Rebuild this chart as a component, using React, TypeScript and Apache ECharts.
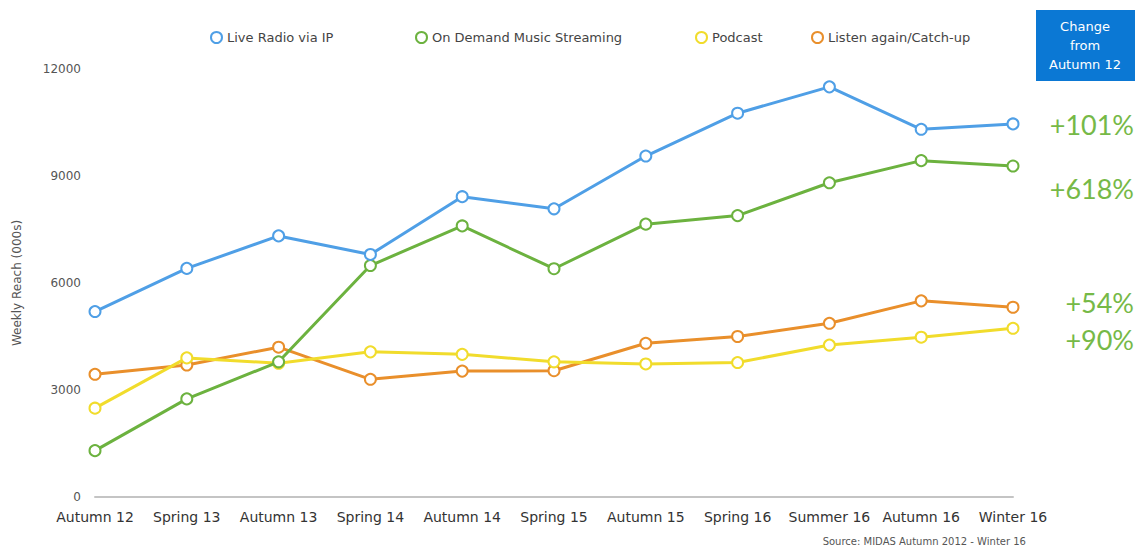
import React, { useEffect, useRef } from "react";
import * as echarts from "echarts";

const categories = ["Autumn 12", "Spring 13", "Autumn 13", "Spring 14", "Autumn 14", "Spring 15", "Autumn 15", "Spring 16", "Summer 16", "Autumn 16", "Winter 16"];
const liveRadio = [5200, 6410, 7320, 6800, 8420, 8080, 9560, 10760, 11500, 10310, 10460];
const onDemand = [1300, 2750, 3790, 6490, 7600, 6400, 7650, 7890, 8810, 9430, 9280];
const podcast = [2490, 3900, 3750, 4070, 4000, 3790, 3730, 3770, 4260, 4480, 4730];
const listenAgain = [3440, 3700, 4200, 3300, 3530, 3540, 4310, 4500, 4870, 5500, 5320];
const seriesNames = ["Live Radio via IP", "On Demand Music Streaming", "Podcast", "Listen again/Catch-up"];
const seriesColors = ["#4f9fe6", "#6cb23f", "#f1dc2c", "#e98f2b"];
const changeLabels = ["+101%", "+618%", "+54%", "+90%"];
const yTicks = [0, 3000, 6000, 9000, 12000];

const FONT = "DejaVu Sans";

export default function App() {
  const ref = useRef<HTMLDivElement>(null);
  useEffect(() => {
    const chart = echarts.init(ref.current!, null, { renderer: "svg" });
    const data = [liveRadio, onDemand, podcast, listenAgain];
    const legendLefts = [205, 410, 690, 806];
    chart.setOption({
      animation: false,
      backgroundColor: "#ffffff",
      textStyle: { fontFamily: FONT },
      legend: seriesNames.map((n, i) => ({
        data: [n],
        left: legendLefts[i],
        top: 26,
        icon: "emptyCircle",
        itemWidth: 11,
        itemHeight: 11,
        itemGap: 6,
        textStyle: { fontFamily: FONT, fontSize: 13, color: "#444" },
      })),
      grid: { left: 95, right: 125, top: 69, bottom: 51 },
      xAxis: {
        type: "category",
        data: categories,
        boundaryGap: false,
        axisLine: { lineStyle: { color: "#c4c4c4", width: 2 } },
        axisTick: { show: false },
        axisLabel: { fontFamily: FONT, fontSize: 14, color: "#333", margin: 13, interval: 0, hideOverlap: false },
        splitLine: { show: false },
      },
      yAxis: {
        type: "value",
        min: yTicks[0],
        max: yTicks[yTicks.length - 1],
        interval: 3000,
        name: "Weekly Reach (000s)",
        nameLocation: "middle",
        nameRotate: 90,
        nameGap: 72,
        nameTextStyle: { fontFamily: FONT, fontSize: 12, color: "#555" },
        axisLine: { show: false },
        axisTick: { show: false },
        splitLine: { show: false },
        axisLabel: { fontFamily: FONT, fontSize: 12, color: "#555", margin: 14, formatter: (v: number) => String(v) },
      },
      series: seriesNames.map((n, i) => ({
        name: n,
        type: "line",
        data: data[i],
        symbol: "emptyCircle",
        symbolSize: 11,
        color: seriesColors[i],
        lineStyle: { width: 3, color: seriesColors[i] },
        itemStyle: { color: seriesColors[i], borderWidth: 3, borderColor: seriesColors[i] },
        z: i === 0 ? 5 : 4 - i,
      })),
      graphic: [
        { type: "rect", shape: { x: 1036, y: 10, width: 99, height: 71 }, style: { fill: "#0b78d4" } },
        {
          type: "text",
          x: 1085,
          y: 45,
          style: {
            text: "Change\nfrom\nAutumn 12",
            fill: "#ffffff",
            font: `13px "${FONT}"`,
            align: "center",
            verticalAlign: "middle",
            lineHeight: 19,
          },
        },
        ...[124, 188, 302, 339].map((y, i) => ({
          type: "text",
          x: 1134,
          y,
          style: {
            text: changeLabels[i],
            fill: "#76b947",
            font: `27px "Lato"`,
            align: "right",
            verticalAlign: "middle",
          },
        })),
        {
          type: "text",
          x: 1026,
          y: 541,
          style: {
            text: "Source: MIDAS Autumn 2012 - Winter 16",
            fill: "#555",
            font: `10px "${FONT}"`,
            align: "right",
            verticalAlign: "middle",
          },
        },
      ],
    });
    return () => chart.dispose();
  }, []);
  return <div ref={ref} style={{ width: 1138, height: 548, position: "absolute", left: 0, top: 0 }} />;
}
